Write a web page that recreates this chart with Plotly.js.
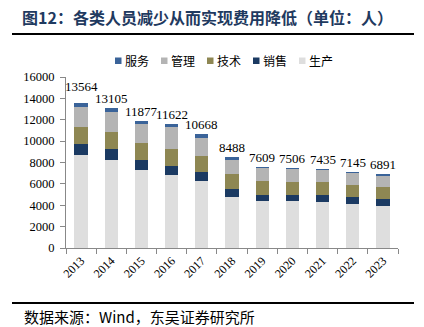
<!DOCTYPE html>
<html>
<head>
<meta charset="utf-8">
<script src="https://cdn.plot.ly/plotly-3.0.1.min.js"></script>
<style>html,body{margin:0;padding:0;background:#fff;}#chart{width:424px;height:327px;}</style>
</head>
<body>
<div id="chart"></div>
<script>
const years = ['2013','2014','2015','2016','2017','2018','2019','2020','2021','2022','2023'];
const production = [8711, 8277, 7316, 6851, 6262, 4805, 4402, 4371, 4340, 4092, 3968];
const sales      = [1023,  992,  961,  868,  806,  682,  527,  589,  620,  651,  620];
const tech       = [1550, 1612, 1550, 1581, 1550, 1395, 1364, 1209, 1178, 1178, 1116];
const management = [1953, 1891, 1767, 1984, 1705, 1395, 1147, 1178, 1147, 1085, 1023];
const service    = [ 327,  333,  283,  338,  345,  211,  169,  159,  150,  139,  164];
const totals     = [13564, 13105, 11877, 11622, 10668, 8488, 7609, 7506, 7435, 7145, 6891];
const seriesNames = ['服务', '管理', '技术', '销售', '生产'];
const seriesColors = ['#3A6399', '#B4B4B4', '#8E8753', '#1B3A62', '#DEDEDE'];
const seriesValues = [service, management, tech, sales, production];

const serif = 'Liberation Serif, Times New Roman, serif';
const cjk = 'Noto Sans CJK SC, sans-serif';

// stacking order: bottom (生产) first
const traces = [];
for (let i = seriesNames.length - 1; i >= 0; i--) {
  traces.push({type: 'bar', name: seriesNames[i], x: years, y: seriesValues[i],
               marker: {color: seriesColors[i], line: {width: 0}}, hoverinfo: 'none', showlegend: false});
}

const W = 332, H = 171;
const px = v => (v - 66) / W;
const py = v => (248 - v) / H;

const shapes = [
  {type: 'line', xref: 'paper', yref: 'paper', x0: px(12), x1: px(414), y0: py(34), y1: py(34),
   line: {color: '#000', width: 2}},
  {type: 'line', xref: 'paper', yref: 'paper', x0: px(12), x1: px(414), y0: py(303), y1: py(303),
   line: {color: '#000', width: 2}}
];
const annotations = [
  {text: '数据来源：Wind，东吴证券研究所', xref: 'paper', yref: 'paper', x: px(22), y: py(316),
   xanchor: 'left', yanchor: 'middle', showarrow: false, font: {family: cjk, size: 15, color: '#000'}}
];
// legend drawn manually (compact Excel-style)
seriesNames.forEach((name, i) => {
  const sx = 115 + i * 46;
  shapes.push({type: 'rect', xref: 'paper', yref: 'paper', x0: px(sx), x1: px(sx + 6.5), y0: py(57.5), y1: py(64),
               fillcolor: seriesColors[i], line: {width: 0}});
  annotations.push({text: name, xref: 'paper', yref: 'paper', x: px(sx + 8), y: py(60.5), xanchor: 'left',
                    yanchor: 'middle', showarrow: false, font: {family: cjk, size: 12, color: '#000'}});
});
// total labels above bars (x given as category index)
totals.forEach((t, i) => {
  annotations.push({text: String(t), x: i, y: t, xref: 'x', yref: 'y', showarrow: false,
                    xanchor: 'center', yanchor: 'bottom', yshift: i === 0 ? 7 : 0,
                    font: {family: serif, size: 13, color: '#000'}});
});

const layout = {
  width: 424, height: 327,
  margin: {l: 66, r: 26, t: 77, b: 79, pad: 0},
  paper_bgcolor: '#fff', plot_bgcolor: '#fff',
  barmode: 'stack', bargap: 0.56,
  showlegend: false,
  title: {text: '<b>图12：各类人员减少从而实现费用降低（单位：人）</b>', xref: 'container', yref: 'container',
          x: 22/424, xanchor: 'left', y: 1 - 18/327, yanchor: 'middle',
          font: {family: cjk, size: 16, color: '#1F3A60'}},
  xaxis: {type: 'category', range: [-0.5, years.length - 0.5], showline: true, linecolor: '#888', linewidth: 1,
          ticks: 'outside', tickson: 'boundaries',
          ticklen: 5, tickcolor: '#888', tickangle: -45, tickfont: {family: serif, size: 12, color: '#000'},
          showgrid: false, zeroline: false, fixedrange: true},
  yaxis: {range: [0, 16000], dtick: 2000, tickformat: 'd', showline: true, linecolor: '#888', linewidth: 1,
          ticks: 'outside', ticklen: 5, tickcolor: '#888', tickfont: {family: serif, size: 12.5, color: '#000'},
          showgrid: false, zeroline: false, fixedrange: true, ticklabelstandoff: 3},
  shapes: shapes,
  annotations: annotations
};
Plotly.newPlot('chart', traces, layout, {staticPlot: true, displayModeBar: false});
</script>
</body>
</html>
